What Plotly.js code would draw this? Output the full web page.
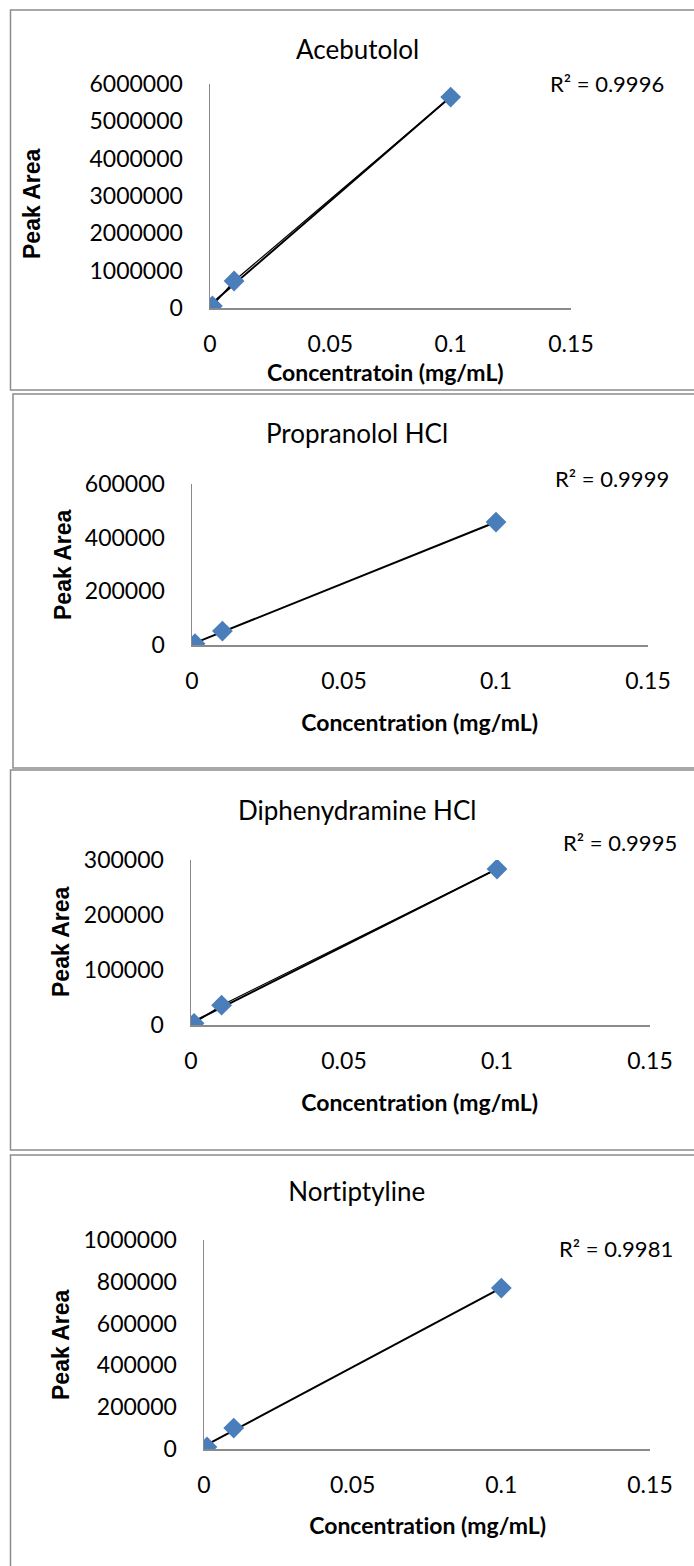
<!DOCTYPE html>
<html>
<head>
<meta charset="utf-8">
<script src="https://cdn.plot.ly/plotly-3.0.1.min.js"></script>
<style>
  html, body { margin: 0; padding: 0; background: #fff; }
  #chart { width: 694px; height: 1566px; }
  #chart text { font-variant-ligatures: none; font-feature-settings: "liga" 0, "clig" 0; }
</style>
</head>
<body>
<div id="chart"></div>
<script>
// ---------------- data ----------------
const concentration = [0.001, 0.01, 0.1];
const acebutolol = [55000, 723000, 5650000];
const propranolol = [5000, 52000, 458000];
const diphenhydramine = [3000, 36000, 283600];
const nortriptyline = [10000, 100000, 770000];

const chartTitles = ["Acebutolol", "Propranolol HCl", "Diphenydramine HCl", "Nortiptyline"];
const xTitles = ["Concentratoin (mg/mL)", "Concentration (mg/mL)", "Concentration (mg/mL)", "Concentration (mg/mL)"];
const yTitle = "Peak Area";
const r2Labels = ["R² = 0.9996", "R² = 0.9999", "R² = 0.9995", "R² = 0.9981"];
const xTickVals = [0, 0.05, 0.1, 0.15];
const yMax = [6000000, 600000, 300000, 1000000];
const yStep = [1000000, 200000, 100000, 200000];
const series = [acebutolol, propranolol, diphenhydramine, nortriptyline];
const connectPoints = [true, false, true, false];

// ---------------- layout geometry (pixels) ----------------
const W = 694, H = 1566;
const px = x => x / W;
const py = y => 1 - y / H;

const panels = [
  {x0: 210, x1: 571, yb: 308, yt: 84,  title: [357, 49],  xt: [385, 372], yt2: [32, 203], r2: [548, 83],  box: [10.5, 10, 390]},
  {x0: 192, x1: 648, yb: 645, yt: 484, title: [357, 433], xt: [420, 722], yt2: [63, 565], r2: [553, 478], box: [13, 394, 768]},
  {x0: 191, x1: 650, yb: 1025, yt: 860, title: [357, 810], xt: [420, 1102], yt2: [61, 942], r2: [561, 842], box: [10.5, 770, 1150]},
  {x0: 204, x1: 650, yb: 1449, yt: 1240, title: [356, 1191], xt: [427, 1525], yt2: [61, 1345], r2: [557, 1248], box: [10.5, 1155, 1600]}
];

const calib = "Lato, 'Open Sans', sans-serif";
const arialB = "'Liberation Sans', Arial, sans-serif";

function linfit(xs, ys) {
  const n = xs.length;
  const mx = xs.reduce((a, b) => a + b, 0) / n;
  const my = ys.reduce((a, b) => a + b, 0) / n;
  let sxy = 0, sxx = 0;
  for (let i = 0; i < n; i++) { sxy += (xs[i] - mx) * (ys[i] - my); sxx += (xs[i] - mx) ** 2; }
  const m = sxy / sxx;
  return {m: m, b: my - m * mx};
}

const traces = [];
const layout = {
  width: W, height: H,
  margin: {l: 0, r: 0, t: 0, b: 0},
  paper_bgcolor: "#fff", plot_bgcolor: "rgba(0,0,0,0)",
  showlegend: false,
  annotations: [],
  shapes: []
};

panels.forEach((p, i) => {
  const k = i + 1;
  const xa = k === 1 ? "x" : "x" + k;
  const ya = k === 1 ? "y" : "y" + k;
  const xname = k === 1 ? "xaxis" : "xaxis" + k;
  const yname = k === 1 ? "yaxis" : "yaxis" + k;
  const ys = series[i];

  const fit = linfit(concentration, ys);
  const xmin = Math.min(...concentration), xmax = Math.max(...concentration);
  traces.push({
    x: [xmin, xmax], y: [fit.m * xmin + fit.b, fit.m * xmax + fit.b],
    xaxis: xa, yaxis: ya, mode: "lines", type: "scatter",
    line: {color: "#000", width: 2}, hoverinfo: "skip"
  });
  if (connectPoints[i]) {
    traces.push({
      x: concentration, y: ys, xaxis: xa, yaxis: ya, mode: "lines", type: "scatter",
      line: {color: "#000", width: 1.2}, hoverinfo: "skip"
    });
  }
  traces.push({
    x: concentration, y: ys, xaxis: xa, yaxis: ya, mode: "markers", type: "scatter",
    marker: {symbol: "diamond", size: 16, color: "#4a7ebb", line: {width: 0}}
  });

  layout[xname] = {
    domain: [px(p.x0), px(p.x1)], anchor: ya,
    range: [0, 0.15], tickvals: xTickVals,
    showline: true, linecolor: "#8a8a8a", linewidth: 1.5,
    showgrid: false, zeroline: false,
    ticks: "outside", ticklen: 15, tickcolor: "rgba(0,0,0,0)",
    tickfont: {family: calib, size: 23, color: "#000"}
  };
  const yt = [];
  for (let v = 0; v <= yMax[i] + 1; v += yStep[i]) yt.push(v);
  layout[yname] = {
    domain: [py(p.yb), py(p.yt)], anchor: xa,
    range: [0, yMax[i]], tickvals: yt, tickformat: "d",
    showline: true, linecolor: "#8a8a8a", linewidth: 1.5,
    showgrid: false, zeroline: false,
    ticks: "outside", ticklen: 21, tickcolor: "rgba(0,0,0,0)",
    tickfont: {family: calib, size: 23, color: "#000"}
  };

  layout.annotations.push(
    {text: chartTitles[i], xref: "paper", yref: "paper", x: px(p.title[0]), y: py(p.title[1]),
     xanchor: "center", yanchor: "middle", showarrow: false,
     font: {family: calib, size: 26, color: "#000"}},
    {text: "<b>" + xTitles[i] + "</b>", xref: "paper", yref: "paper", x: px(p.xt[0]), y: py(p.xt[1]),
     xanchor: "center", yanchor: "middle", showarrow: false,
     font: {family: calib, size: 23, color: "#000"}},
    {text: "<b>" + yTitle + "</b>", xref: "paper", yref: "paper", x: px(p.yt2[0]), y: py(p.yt2[1]),
     xanchor: "center", yanchor: "middle", showarrow: false, textangle: -90,
     font: {family: arialB, size: 23, color: "#000"}},
    {text: r2Labels[i], xref: "paper", yref: "paper", x: px(p.r2[0]), y: py(p.r2[1]),
     xanchor: "left", yanchor: "middle", showarrow: false,
     font: {family: calib, size: 22, color: "#000"}}
  );

  layout.shapes.push({
    type: "rect", xref: "paper", yref: "paper", layer: "below",
    x0: px(p.box[0]), x1: px(720), y0: py(p.box[2]), y1: py(p.box[1]),
    line: {color: "#8c8c8c", width: 1.5}, fillcolor: "rgba(0,0,0,0)"
  });
});

Plotly.newPlot("chart", traces, layout, {displayModeBar: false, staticPlot: true});
</script>
</body>
</html>
